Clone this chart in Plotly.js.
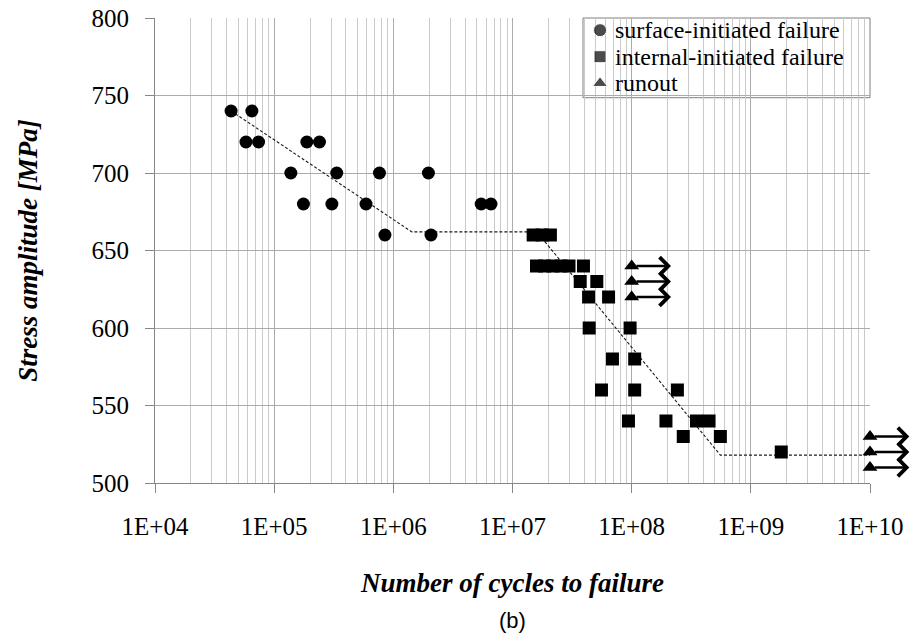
<!DOCTYPE html>
<html>
<head>
<meta charset="utf-8">
<script src="https://cdn.plot.ly/plotly-3.0.1.min.js"></script>
<style>html,body{margin:0;padding:0;background:#fff}#chart{width:916px;height:639px}</style>
</head>
<body>
<div id="chart"></div>
<script>
// ---- data ----
const surfaceN = [4.35e4, 6.5e4, 5.8e4, 7.4e4, 1.88e5, 2.4e5, 1.38e5, 3.35e5, 7.65e5, 1.97e6, 1.76e5, 3.05e5, 5.9e5, 5.46e6, 6.6e6, 8.5e5, 2.07e6];
const surfaceS = [740, 740, 720, 720, 720, 720, 700, 700, 700, 700, 680, 680, 680, 680, 680, 660, 660];

const internalN = [1.49e7, 1.77e7, 2.08e7, 1.59e7, 1.86e7, 2.18e7, 2.55e7, 2.98e7, 3.94e7, 3.7e7, 5.1e7, 4.35e7, 6.4e7, 4.4e7, 9.7e7, 6.9e7, 1.06e8, 5.58e7, 1.06e8, 2.42e8, 9.4e7, 1.94e8, 3.5e8, 4.46e8, 2.71e8, 5.55e8, 1.8e9];
const internalS = [660, 660, 660, 640, 640, 640, 640, 640, 640, 630, 630, 620, 620, 600, 600, 580, 580, 560, 560, 560, 540, 540, 540, 540, 530, 530, 520];

const runoutN = [1e8, 1e8, 1e8, 1e10, 1e10, 1e10];
const runoutS = [640, 630, 620, 530, 520, 510];

const trendN = [4.35e4, 1.43e6, 1.6e7, 5.55e8, 1e10];
const trendS = [740, 662, 662, 518, 518];

const legendLabels = ['surface-initiated failure', 'internal-initiated failure', 'runout'];
const xTickVals = [1e4, 1e5, 1e6, 1e7, 1e8, 1e9, 1e10];
const xTickText = ['1E+04', '1E+05', '1E+06', '1E+07', '1E+08', '1E+09', '1E+10'];
const yTickVals = [500, 550, 600, 650, 700, 750, 800];

// ---- styling ----
const serif = "'Liberation Serif', 'Times New Roman', serif";
const xRange = [4, 10];
const minorVals = [];
for (let d = xRange[0]; d < xRange[1]; d++) for (let k = 2; k <= 9; k++) minorVals.push(k * Math.pow(10, d));
const arrowLenDec = 0.33;   // runout arrow length, in decades
const arrowTailPx = -36;    // tail offset from head, pixels

const legY = [0.9738, 0.9168, 0.8598];
const legX = 0.6224;

const traces = [
  {x: trendN, y: trendS, mode: 'lines', line: {color: '#1a1a1a', width: 1.1, dash: '3px,2px'}, showlegend: false, hoverinfo: 'skip'},
  {x: surfaceN, y: surfaceS, mode: 'markers', name: legendLabels[0], marker: {symbol: 'circle', size: 13, color: '#000'}, cliponaxis: false, showlegend: false},
  {x: internalN, y: internalS, mode: 'markers', name: legendLabels[1], marker: {symbol: 'square', size: 13, color: '#000'}, cliponaxis: false, showlegend: false},
  {x: runoutN, y: runoutS, mode: 'markers', name: legendLabels[2], marker: {symbol: 'triangle-up', size: 13, color: '#000'}, cliponaxis: false, showlegend: false},
  // legend swatches on an overlay (0..1) axis pair
  {x: [legX, legX, legX], y: legY, xaxis: 'x2', yaxis: 'y2', mode: 'markers',
   marker: {symbol: ['circle', 'square', 'triangle-up'], size: [13, 12, 13], color: '#000'}, showlegend: false, hoverinfo: 'skip', cliponaxis: false}
];

const annotations = [];
runoutN.forEach((n, i) => {
  // head position as a fraction of the x axis (domain), so arrows past 1E+10 are still drawn
  const headFrac = (Math.log10(n) + arrowLenDec - xRange[0]) / (xRange[1] - xRange[0]);
  annotations.push({
    x: headFrac, y: runoutS[i], xref: 'x domain', yref: 'y',
    ax: arrowTailPx, ay: 0, axref: 'pixel', ayref: 'pixel',
    text: '', showarrow: true, arrowhead: 4, arrowsize: 1.3, arrowwidth: 2.6, arrowcolor: '#000', standoff: 0, startstandoff: 0
  });
});
legendLabels.forEach((t, i) => {
  annotations.push({x: 0.6406, y: legY[i], xref: 'paper', yref: 'paper', xanchor: 'left', yanchor: 'middle',
    text: t, showarrow: false, font: {family: serif, size: 24, color: '#000'}});
});
annotations.push({x: 0.5, y: 0, xref: 'paper', yref: 'paper', yshift: -137, xanchor: 'center', yanchor: 'middle',
  text: '(b)', showarrow: false, font: {family: "'Liberation Sans', Arial, sans-serif", size: 22, color: '#000'}});

const layout = {
  width: 916, height: 639,
  margin: {l: 155, r: 46, t: 18, b: 156},
  paper_bgcolor: '#fff', plot_bgcolor: '#fff',
  showlegend: false,
  xaxis: {
    type: 'log', range: xRange, tickvals: xTickVals, ticktext: xTickText,
    showgrid: true, gridcolor: '#ababab', gridwidth: 1,
    minor: {tickvals: minorVals, showgrid: true, gridcolor: '#cacaca', gridwidth: 1, ticks: ''},
    showline: true, linecolor: '#868686', linewidth: 1,
    ticks: 'outside', ticklen: 9, tickcolor: '#868686',
    tickfont: {family: serif, size: 25, color: '#000'}, ticklabelstandoff: 12,
    zeroline: false, automargin: false,
    title: {text: 'Number of cycles to failure', font: {family: serif, size: 27, weight: 'bold', style: 'italic', color: '#000'}, standoff: 34}
  },
  yaxis: {
    range: [500, 800], tickvals: yTickVals,
    showgrid: true, gridcolor: '#ababab', gridwidth: 1,
    showline: true, linecolor: '#868686', linewidth: 1,
    ticks: 'outside', ticklen: 9, tickcolor: '#868686',
    tickfont: {family: serif, size: 25, color: '#000'}, ticklabelstandoff: 11,
    zeroline: false, automargin: false,
    title: {text: 'Stress amplitude [MPa]', font: {family: serif, size: 27, weight: 'bold', style: 'italic', color: '#000'}, standoff: 46}
  },
  xaxis2: {overlaying: 'x', range: [0, 1], visible: false, fixedrange: true},
  yaxis2: {overlaying: 'y', range: [0, 1], visible: false, fixedrange: true},
  shapes: [
    {type: 'rect', xref: 'paper', yref: 'paper', x0: 0.5986, x1: 1, y0: 0.8286, y1: 1,
     fillcolor: '#fff', line: {color: '#7f7f7f', width: 1}, layer: 'between'}
  ],
  annotations: annotations
};

Plotly.newPlot('chart', traces, layout, {staticPlot: true, displayModeBar: false});
</script>
</body>
</html>
